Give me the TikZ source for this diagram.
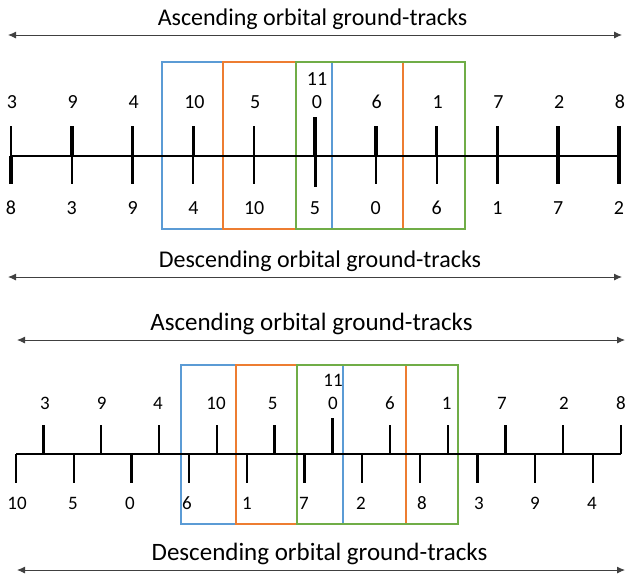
\documentclass[tikz,border=0pt]{standalone}
\usepackage{fontspec}
\setmainfont{Carlito}
\usetikzlibrary{arrows.meta}
\definecolor{boxblue}{RGB}{91,155,213}
\definecolor{boxorange}{RGB}{237,125,49}
\definecolor{boxgreen}{RGB}{112,173,71}
\begin{document}
\begin{tikzpicture}[x=1pt,y=-1pt,
  title/.style={font=\fontsize{24}{28}\selectfont, anchor=base, inner sep=0pt},
  bigtitle/.style={font=\fontsize{25}{29}\selectfont, anchor=base, inner sep=0pt},
  num/.style={font=\fontsize{20}{24}\selectfont, anchor=base, inner sep=0pt},
  smallnum/.style={font=\fontsize{19}{23}\selectfont, anchor=base, inner sep=0pt},
  span/.style={draw=black!75, line width=0.9pt,
    {Latex[length=8pt,width=7pt]}-{Latex[length=8pt,width=7pt]}},
  axisline/.style={line width=2.2pt},
  window/.style={line width=1.3pt},
]
\useasboundingbox (0,0) rectangle (626,582);

% ---------------- first pattern ----------------
\node[title] (ascA) at (312.5,25) {Ascending orbital ground-tracks};
\coordinate (ascAL) at (8,35);
\coordinate (ascAR) at (622,35);
\draw[span] (ascAL) -- (ascAR);

\draw[window, boxblue]   (162,62) rectangle (332,229);
\draw[window, boxorange] (223,62) rectangle (403,229);
\draw[window, boxgreen]  (296,62) rectangle (465,229);

\coordinate (axAL) at (11,156);
\coordinate (axAR) at (619,156);
\draw[axisline] (axAL) -- (axAR);

% position / upper width / lower width / ascending label / descending label
\foreach \x/\uw/\lw/\up/\dn [count=\i] in
  {11/2/3.6/3/8, 71.8/3.6/2/9/3, 132.6/3.6/3.6/4/9, 193.4/3.6/2/10/4,
   254.2/2/2/5/10, 375.8/3.6/2/6/0, 436.6/3.6/2/1/6,
   497.4/3.6/3.6/7/1, 558.2/3.6/3.6/2/7, 619/3.6/3.6/8/2}{
  \coordinate (tA\i) at (\x,156);
  \draw[line width=\uw pt] (tA\i) -- ++(0,-30);
  \draw[line width=\lw pt] (tA\i) -- ++(0,28);
  \node[num] (uA\i) at (\x+1,108.3) {\up};
  \node[num] (dA\i) at (\x,214.3) {\dn};
}
\coordinate (tA0) at (315,156);
\draw[line width=3.4pt] (tA0) -- ++(0,-39);
\draw[line width=3pt] (tA0) -- ++(0,31);
\node[num] (uA0) at (317,108.3) {0};
\node[num] (uA11) at (317,85) {11};
\node[num] (dA0) at (315,214.3) {5};

\node[title] (desA) at (320,267) {Descending orbital ground-tracks};
\coordinate (desAL) at (8,277);
\coordinate (desAR) at (622,277);
\draw[span] (desAL) -- (desAR);

% ---------------- second pattern ----------------
\node[bigtitle] (ascB) at (311.5,330.7) {Ascending orbital ground-tracks};
\coordinate (ascBL) at (17,340);
\coordinate (ascBR) at (625,340);
\draw[span] (ascBL) -- (ascBR);

\draw[window, boxblue]   (181,365) rectangle (343,524);
\draw[window, boxorange] (236,365) rectangle (406,524);
\draw[window, boxgreen]  (297,365) rectangle (458,524);

\coordinate (axBL) at (16,454.3);
\coordinate (axBR) at (621,454.3);
\draw[axisline] (axBL) -- (axBR);

% ascending ticks above the line
\foreach \x/\lx/\up [count=\i] in
  {43.5/45/3, 101.25/101.7/9, 159/158/4, 216.75/216/10, 274.5/272.7/5,
   390/390/6, 447.75/446.7/1, 505.5/502/7, 563.25/564/2, 621/621/8}{
  \coordinate (tB\i) at (\x,454.3);
  \draw[line width=2.3pt] (tB\i) -- ++(0,-29);
  \node[smallnum] (uB\i) at (\lx,409.3) {\up};
}
\coordinate (tB0) at (332.25,454.3);
\draw[line width=3.2pt] (tB0) -- ++(0,-36);
\node[smallnum] (uB0) at (333,409.3) {0};
\node[smallnum] (uB11) at (333,386.7) {11};

% descending ticks below the line
\foreach \x/\lx/\dn [count=\i] in
  {16/17/10, 73.7/73/5, 131.4/130/0, 189.1/187/6, 246.8/247/1, 304.5/304/7,
   362.2/361/2, 419.9/422/8, 477.6/479/3, 535.3/535/9, 593/592/4}{
  \coordinate (bB\i) at (\x,454.3);
  \draw[line width=2.3pt] (bB\i) -- ++(0,29);
  \node[smallnum] (dB\i) at (\lx,509) {\dn};
}

\node[bigtitle] (desB) at (319.5,560.7) {Descending orbital ground-tracks};
\coordinate (desBL) at (17,570);
\coordinate (desBR) at (625,570);
\draw[span] (desBL) -- (desBR);
\end{tikzpicture}
\end{document}
